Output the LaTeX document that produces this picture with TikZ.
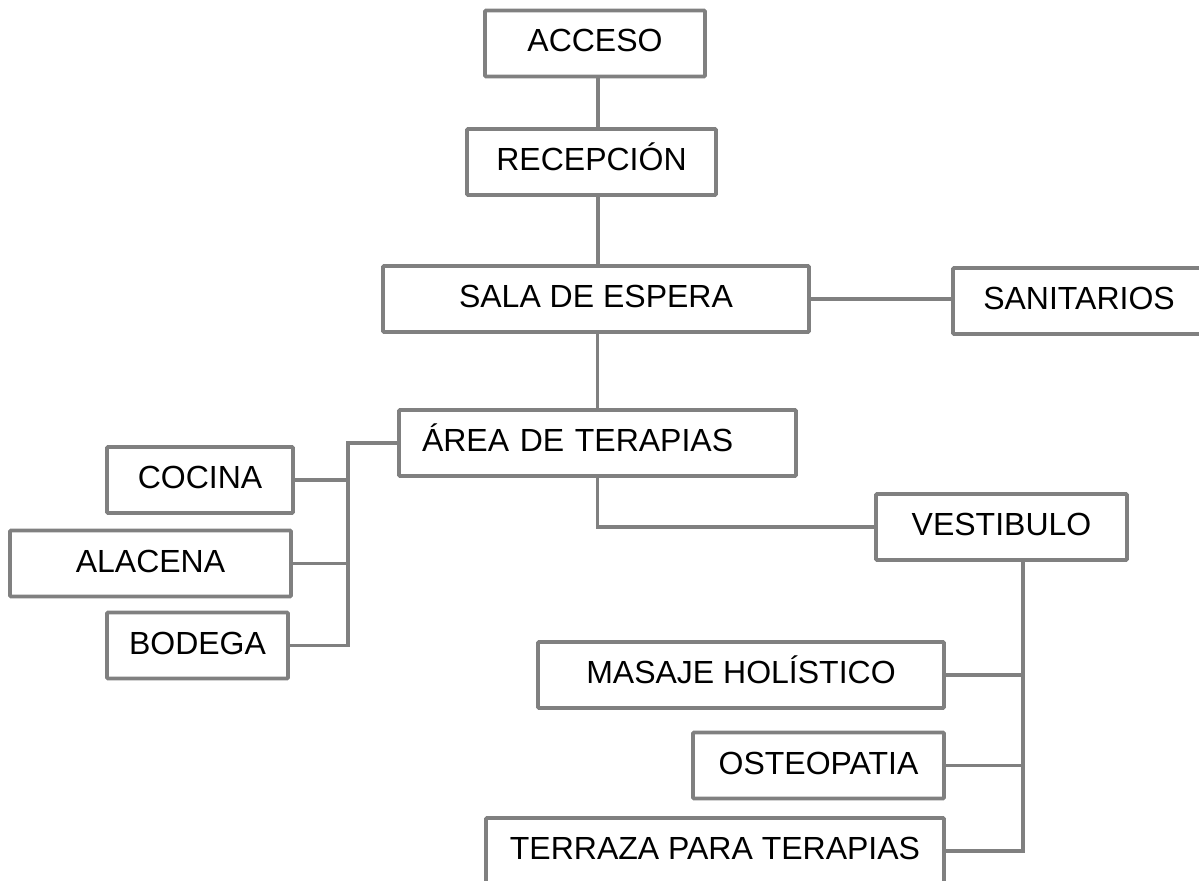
\documentclass[tikz,border=0pt]{standalone}
\usepackage{fontspec}
\setmainfont{Liberation Sans}
\usepackage{tikz}
\usetikzlibrary{positioning}
\definecolor{grisborde}{HTML}{808080}
\tikzset{
    caja/.style = {rectangle, draw=grisborde, line width=2.75pt, rounded corners=0.75pt, align=center, fill=white, inner sep=0pt, minimum height=49.5pt, text height=17.25pt, text depth=4.5pt, font=\fontsize{24pt}{28pt}\selectfont, text=black},
    linea/.style = {-, line width=2.75pt, grisborde},
}

\begin{document}
\begin{tikzpicture}[x=0.75pt,y=-0.75pt]
\useasboundingbox (0,0) rectangle (1199,881);
\clip (0,0) rectangle (1199,881);
\node[caja, minimum width=165pt] at ( 595.0,  43.5) (acceso) {ACCESO};
\node[caja, minimum width=186.75pt] at ( 591.5, 162.0) (recepcion) {RECEPCIÓN};
\node[caja, minimum width=319.5pt] at ( 596.0, 299.0) (sala) {SALA DE ESPERA};
\node[caja, minimum width=189pt] at (1079.0, 301.0) (sanitarios) {SANITARIOS};
\node[caja, minimum width=297.75pt, text width=263.25pt, align=left] at ( 597.5, 443.0) (area) {ÁREA DE TERAPIAS};
\node[caja, minimum width=139.5pt] at ( 200.0, 480.0) (cocina) {COCINA};
\node[caja, minimum width=210.75pt] at ( 150.5, 563.5) (alacena) {ALACENA};
\node[caja, minimum width=135.75pt] at ( 197.5, 645.5) (bodega) {BODEGA};
\node[caja, minimum width=188.25pt] at (1001.5, 527.0) (vestibulo) {VESTIBULO};
\node[caja, minimum width=304.5pt] at ( 741.0, 675.0) (masaje) {MASAJE HOLÍSTICO};
\node[caja, minimum width=188.25pt] at ( 818.5, 765.5) (osteopatia) {OSTEOPATIA};
\node[caja, minimum width=343.5pt] at ( 715.0, 851.0) (terraza) {TERRAZA PARA TERAPIAS};

\coordinate (ramaizq) at (348, 0);
\coordinate (ramader) at (1023, 0);

\draw[linea] ([xshift=2.25pt]acceso.south) -- ([xshift=2.25pt]acceso.south |- recepcion.north);
\draw[linea] ([xshift=1.5pt]sala.north) -- ([xshift=1.5pt]sala.north |- recepcion.south);
\draw[linea] (sala.east) -- (sala.east -| sanitarios.west);
\draw[linea] (area.north) -- (area.north |- sala.south);
\draw[linea] (area.west) -- (area.west -| ramaizq) -- (bodega.east -| ramaizq) -- (bodega.east);
\draw[linea] (cocina.east) -- (cocina.east -| ramaizq);
\draw[linea] (alacena.east) -- (alacena.east -| ramaizq);
\draw[linea] (area.south) |- (vestibulo.west);
\draw[linea] (vestibulo.south -| ramader) -- (terraza.east -| ramader) -- (terraza.east);
\draw[linea] (masaje.east) -- (masaje.east -| ramader);
\draw[linea] (osteopatia.east) -- (osteopatia.east -| ramader);

\end{tikzpicture}
\end{document}
